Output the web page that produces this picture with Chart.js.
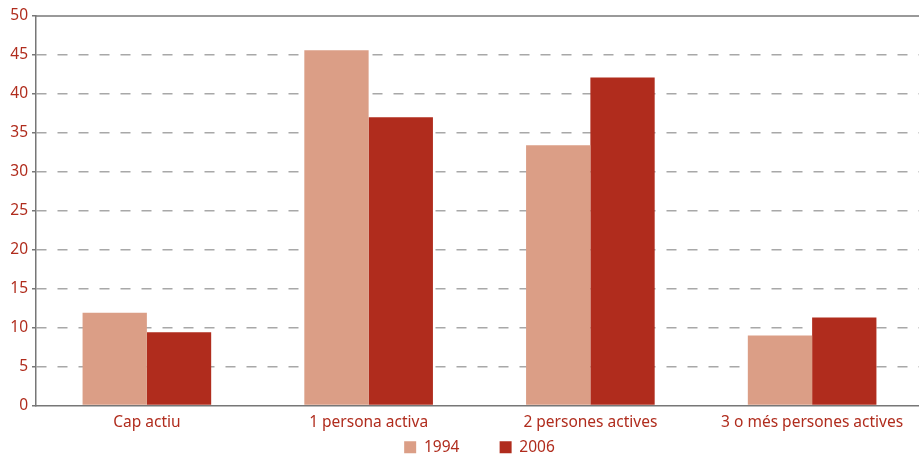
<!DOCTYPE html>
<html>
<head>
<meta charset="utf-8">
<script src="https://cdn.jsdelivr.net/npm/chart.js@4"></script>
<style>
  html, body { margin: 0; padding: 0; background: #fff; overflow: hidden; }
  #wrap { width: 923px; height: 455px; }
</style>
</head>
<body>
<div id="wrap"><canvas id="grafic"></canvas></div>
<script>
// dades
const categories = ['Cap actiu', '1 persona activa', '2 persones actives', '3 o més persones actives'];
const anys = ['1994', '2006'];
const valors1994 = [11.9, 45.6, 33.4, 9.0];
const valors2006 = [9.4, 37.0, 42.1, 11.3];
const ticksY = [0, 5, 10, 15, 20, 25, 30, 35, 40, 45, 50];

const vermell = '#b02c1d';
const rosa = '#db9e86';
const gris = '#a8a8a8';
const lletra = { family: 'Noto Sans', size: 15.5 };

// linia de dalt (marc superior)
const marcSuperior = {
    id: 'marcSuperior',
    afterDraw(chart) {
        const { ctx, chartArea } = chart;
        ctx.save();
        ctx.strokeStyle = '#777';
        ctx.lineWidth = 1.5;
        ctx.beginPath();
        ctx.moveTo(chartArea.left, chartArea.top);
        ctx.lineTo(chart.width, chartArea.top);
        ctx.stroke();
        ctx.restore();
    }
};

new Chart(document.getElementById('grafic'), {
    type: 'bar',
    data: {
        labels: categories,
        datasets: [
            { label: anys[0], data: valors1994, backgroundColor: rosa, categoryPercentage: 0.58, barPercentage: 1.0 },
            { label: anys[1], data: valors2006, backgroundColor: vermell, categoryPercentage: 0.58, barPercentage: 1.0 }
        ]
    },
    options: {
        responsive: true,
        maintainAspectRatio: false,
        animation: false,
        layout: { padding: { top: 16, right: 0, left: 0, bottom: -10 } },
        scales: {
            x: {
                afterFit(scale) { scale.height = 26; },
                grid: { display: false, drawTicks: false, tickLength: 0 },
                border: { color: '#777', width: 1.5 },
                ticks: { color: vermell, font: lletra, padding: 8, maxRotation: 0 }
            },
            y: {
                min: 0, max: 50,
                afterFit(scale) { scale.width = 36; },
                afterBuildTicks(scale) { scale.ticks = ticksY.map(v => ({ value: v })); },
                grid: {
                    color: ctx => (ctx.tick && (ctx.tick.value === 0 || ctx.tick.value === 50)) ? 'rgba(0,0,0,0)' : gris,
                    lineWidth: 1.5,
                    drawTicks: true,
                    tickLength: 4,
                    tickColor: '#777'
                },
                border: { color: '#777', width: 1.5, dash: [10, 11] },
                ticks: { color: vermell, font: lletra, padding: 4 }
            }
        },
        plugins: {
            legend: {
                position: 'bottom',
                fullSize: false,
                labels: {
                    color: vermell,
                    font: lletra,
                    boxWidth: 12, boxHeight: 12,
                    padding: 8,
                    generateLabels(chart) {
                        const items = Chart.defaults.plugins.legend.labels.generateLabels(chart);
                        items[0].text = items[0].text + '        ';
                        return items;
                    }
                }
            },
            tooltip: { enabled: false }
        }
    },
    plugins: [marcSuperior]
});
</script>
</body>
</html>
